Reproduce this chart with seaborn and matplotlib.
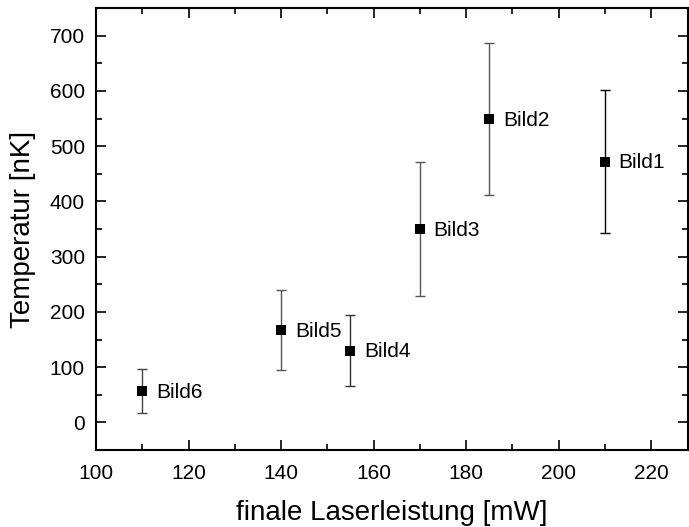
import matplotlib
matplotlib.use("Agg")
import matplotlib.pyplot as plt
from matplotlib.ticker import MultipleLocator
import seaborn as sns
import pandas as pd

# Measured temperatures per image
labels = ["Bild1", "Bild2", "Bild3", "Bild4", "Bild5", "Bild6"]
power_mw = [210, 185, 170, 155, 140, 110]
temp_nk = [472, 549, 350, 130, 167, 57]
temp_err = [130, 137, 122, 64, 73, 40]
bar_colors = ["#000000", "#555555", "#555555", "#333333", "#555555", "#444444"]

df = pd.DataFrame({"label": labels, "P": power_mw, "T": temp_nk, "dT": temp_err})

sns.set_style("ticks")
plt.rcParams["font.family"] = ["Liberation Sans", "DejaVu Sans"]
plt.rcParams["text.color"] = "black"
plt.rcParams["axes.labelcolor"] = "black"
plt.rcParams["xtick.color"] = "black"
plt.rcParams["ytick.color"] = "black"

fig = plt.figure(figsize=(6.89, 5.27), dpi=100)
ax = fig.add_axes([96 / 689, 1 - 450 / 527, (688 - 96) / 689, (450 - 8) / 527])

for p, t, e, c in zip(df["P"], df["T"], df["dT"], bar_colors):
    ax.errorbar(p, t, yerr=e, fmt="none", ecolor=c, elinewidth=1.0,
                capsize=3.6, capthick=1.0, zorder=2)

sns.scatterplot(data=df, x="P", y="T", marker="s", s=42, color="black",
                edgecolor="black", linewidth=0, ax=ax, zorder=3)

for lab, p, t in zip(df["label"], df["P"], df["T"]):
    ax.annotate(lab, (p, t), xytext=(10, -1), textcoords="offset points",
                ha="left", va="center", fontsize=15, color="black")

ax.set_xlim(100, 228)
ax.set_ylim(-50, 750)
ax.xaxis.set_major_locator(MultipleLocator(20))
ax.xaxis.set_minor_locator(MultipleLocator(10))
ax.yaxis.set_major_locator(MultipleLocator(100))
ax.yaxis.set_minor_locator(MultipleLocator(50))
ax.tick_params(which="both", direction="in", top=True, right=True,
               labeltop=False, labelright=False, width=1.2, color="black",
               labelcolor="black")
ax.tick_params(which="major", length=7, labelsize=15)
ax.tick_params(axis="x", which="major", pad=10)
ax.tick_params(axis="y", which="major", pad=8)
ax.tick_params(which="minor", length=4)
for s in ax.spines.values():
    s.set_linewidth(1.5)
    s.set_color("black")

ax.set_xlabel("finale Laserleistung [mW]", fontsize=20, labelpad=12)
ax.set_ylabel("Temperatur [nK]", fontsize=20, labelpad=10)

fig.savefig("out.png", dpi=100)
